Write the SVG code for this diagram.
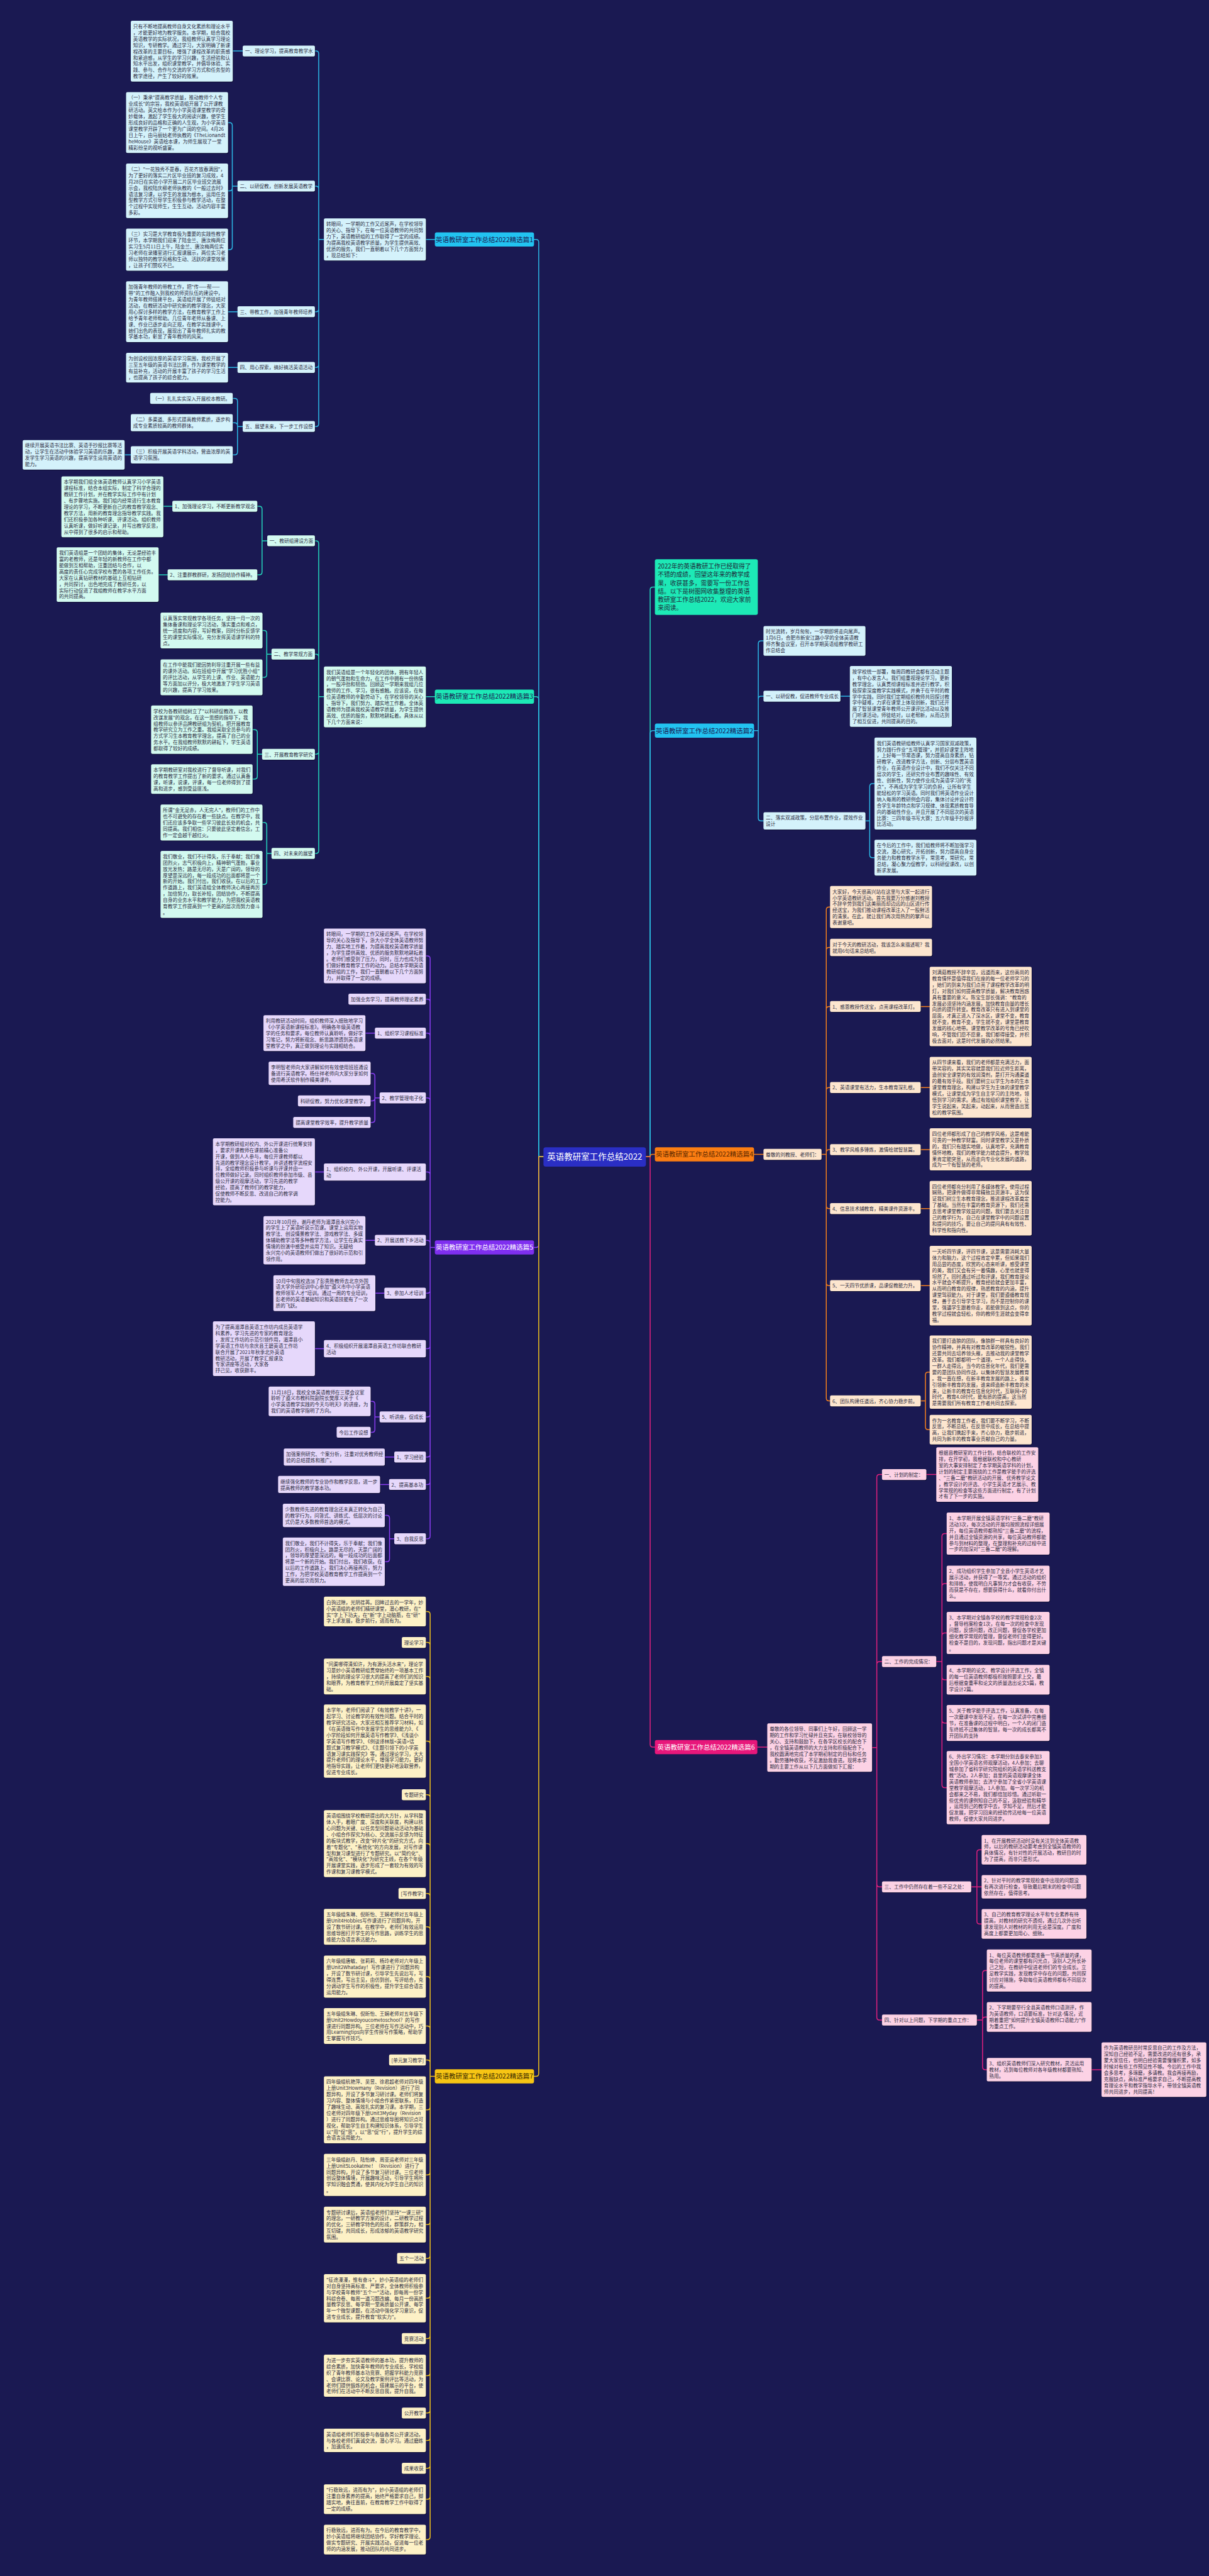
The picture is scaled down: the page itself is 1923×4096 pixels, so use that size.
<svg xmlns="http://www.w3.org/2000/svg" width="1923" height="4096" viewBox="0 0 1923 4096">
<style>
.t{font-family:"Noto Sans CJK SC","Noto Sans",sans-serif;font-size:10.3px;fill:#2c2c42}
.bt{font-family:"Noto Sans CJK SC","Noto Sans",sans-serif;font-size:14px;text-anchor:middle}
.bx{filter:drop-shadow(1px 1.5px 1px rgba(0,0,0,.45))}
.k1{fill:#d4f2fb}.k3{fill:#d3faf0}.k4{fill:#fde6cf}.k5{fill:#e6d8fb}.k6{fill:#fcd2e5}.k7{fill:#fdf1c6}
.ln{fill:none;stroke-width:2;stroke-linecap:round}
.c1{stroke:#2cb9e6}.c3{stroke:#25d6bd}.c4{stroke:#f47f1d}.c5{stroke:#8a3df2}.c6{stroke:#e0207e}.c7{stroke:#f0c21c}
</style>
<rect width="1923" height="4096" fill="#1a1952"/>
<g transform="scale(0.751)">
<g id="connectors">
<path class="ln c3" d="M1151 2449H1141V1481Q1141 1475 1135 1475H1131M921 1475H902M686 1475H675V1151Q675 1145 669 1145H667M686 1475H675V1391Q675 1385 669 1385H667M686 1475H675V1591Q675 1597 669 1597H667M686 1475H675V1801Q675 1807 669 1807H667M566 1145H555V1078Q555 1072 549 1072H545M566 1145H555V1211Q555 1217 549 1217H545M365 1072H346M355 1217H336M575 1385H565V1341Q565 1335 559 1335H556M575 1385H565V1428Q565 1434 559 1434H556M555 1597H545V1551Q545 1545 539 1545H535M555 1597H545V1643.5Q545 1649.5 539 1649.5H535M575 1807H565V1747.5Q565 1741.5 559 1741.5H556M575 1807H565V1866.5Q565 1872.5 559 1872.5H556"/>
<path class="ln c1" d="M1151 2449H1141V513Q1141 507 1135 507H1131M921 507H902M686 507H675V114Q675 108 669 108H667M686 507H675V400Q675 394 669 394H667M686 507H675V654Q675 660 669 660H667M686 507H675V772Q675 778 669 778H667M686 507H675V897Q675 903 669 903H667M514 108H493M503 394H492V265.5Q492 259.5 486 259.5H483M503 394H492V398Q492 404 486 404H483M503 394H492V522.6Q492 528.6 486 528.6H483M503 660H483M503 778H483M514 903H503V849.5Q503 843.5 497 843.5H493M514 903H503V901Q503 895 497 895H493M514 903H503V957Q503 963 497 963H493M277 963H264"/>
<path class="ln c5" d="M1151 2449H1141V2635Q1141 2641 1135 2641H1131M921 2641H911V2030Q911 2024 905 2024H902M921 2641H911V2121.5Q911 2115.5 905 2115.5H902M921 2641H911V2193.5Q911 2187.5 905 2187.5H902M921 2641H911V2330.5Q911 2324.5 905 2324.5H902M921 2641H911V2487.5Q911 2481.5 905 2481.5H902M921 2641H911V2632Q911 2626 905 2626H902M921 2641H911V2732Q911 2738 905 2738H902M921 2641H911V2849.5Q911 2855.5 905 2855.5H902M921 2641H911V2994Q911 3000 905 3000H902M921 2641H911V3079Q911 3085 905 3085H902M921 2641H911V3137Q911 3143 905 3143H902M921 2641H911V3252Q911 3258 905 3258H902M794 2187.5H774M804 2324.5H794V2278.5Q794 2272.5 788 2272.5H785M804 2324.5H794V2325Q794 2331 788 2331H785M804 2324.5H794V2370.5Q794 2376.5 788 2376.5H785M686 2481.5H667M794 2626H774M814 2738H795M686 2855.5H667M804 3000H794V2973Q794 2967 788 2967H785M804 3000H794V3026.5Q794 3032.5 788 3032.5H785M835 3085H815M824 3143H805M835 3258H825V3214.5Q825 3208.5 819 3208.5H815M835 3258H825V3300.5Q825 3306.5 819 3306.5H815"/>
<path class="ln c7" d="M1151 2449H1141V4390Q1141 4396 1135 4396H1131M921 4396H911V3418Q911 3412 905 3412H902M921 4396H911V3483.5Q911 3477.5 905 3477.5H902M921 4396H911V3555.5Q911 3549.5 905 3549.5H902M921 4396H911V3692.5Q911 3686.5 905 3686.5H902M921 4396H911V3806Q911 3800 905 3800H902M921 4396H911V3909.5Q911 3903.5 905 3903.5H902M921 4396H911V4015Q911 4009 905 4009H902M921 4396H911V4085.5Q911 4079.5 905 4079.5H902M921 4396H911V4191Q911 4185 905 4185H902M921 4396H911V4295.5Q911 4289.5 905 4289.5H902M921 4396H911V4367.5Q911 4361.5 905 4361.5H902M921 4396H911V4461Q911 4467 905 4467H902M921 4396H911V4599Q911 4605 905 4605H902M921 4396H911V4704Q911 4710 905 4710H902M921 4396H911V4775.5Q911 4781.5 905 4781.5H902M921 4396H911V4860Q911 4866 905 4866H902M921 4396H911V4945.5Q911 4951.5 905 4951.5H902M921 4396H911V5024Q911 5030 905 5030H902M921 4396H911V5103Q911 5109 905 5109H902M921 4396H911V5161Q911 5167 905 5167H902M921 4396H911V5220Q911 5226 905 5226H902M921 4396H911V5285.5Q911 5291.5 905 5291.5H902M921 4396H911V5371Q911 5377 905 5377H902"/>
<path class="ln c3" d="M1368 2449H1377V1249Q1377 1243 1383 1243H1387"/>
<path class="ln c1" d="M1368 2449H1377V1553Q1377 1547 1383 1547H1387M1597 1547H1606V1363Q1606 1357 1612 1357H1617M1597 1547H1606V1480Q1606 1474 1612 1474H1617M1597 1547H1606V1732Q1606 1738 1612 1738H1617M1780 1474H1800M1833 1738H1842V1665Q1842 1659 1848 1659H1852M1833 1738H1842V1810Q1842 1816 1848 1816H1852"/>
<path class="ln c6" d="M1368 2449H1377V3693Q1377 3699 1383 3699H1387M1604 3699H1625M1847 3700H1857V3128Q1857 3122 1863 3122H1868M1847 3700H1857V3524Q1857 3518 1863 3518H1868M1847 3700H1857V3989Q1857 3995 1863 3995H1868M1847 3700H1857V4271Q1857 4277 1863 4277H1868M1962 3122H1983M1983 3518H1995V3253Q1995 3247 2001 3247H2005M1983 3518H1995V3359Q1995 3353 2001 3353H2005M1983 3518H1995V3463.5Q1995 3457.5 2001 3457.5H2005M1983 3518H1995V3550.5Q1995 3556.5 2001 3556.5H2005M1983 3518H1995V3642Q1995 3648 2001 3648H2005M1983 3518H1995V3779Q1995 3785 2001 3785H2005M2057 3995H2069V3922.5Q2069 3916.5 2075 3916.5H2079M2057 3995H2079M2057 3995H2069V4067.5Q2069 4073.5 2075 4073.5H2079M2069 4277H2081V4178Q2081 4172 2087 4172H2090M2069 4277H2081V4276.5Q2081 4270.5 2087 4270.5H2090M2069 4277H2081V4376Q2081 4382 2087 4382H2090M2306 4382H2333"/>
<path class="ln c4" d="M1368 2449H1377Q1377 2444 1382 2444H1387M1597 2444H1617M1740 2444H1750V1926.5Q1750 1920.5 1756 1920.5H1758M1740 2444H1750V2012Q1750 2006 1756 2006H1758M1740 2444H1750V2137Q1750 2131 1756 2131H1758M1740 2444H1750V2308.5Q1750 2302.5 1756 2302.5H1758M1740 2444H1750V2440Q1750 2434 1756 2434H1758M1740 2444H1750V2553Q1750 2559 1756 2559H1758M1740 2444H1750V2716Q1750 2722 1756 2722H1758M1740 2444H1750V2960Q1750 2966 1756 2966H1758M1950 2131H1969M1950 2302.5H1969M1950 2434H1969M1950 2559H1969M1950 2722H1969M1950 2966H1960V2911Q1960 2905 1966 2905H1969M1950 2966H1960V3021Q1960 3027 1966 3027H1969"/>
</g>

<g id="root"><rect x="1151" y="2429" width="217" height="41" rx="5" fill="#2a2ec4"/><text x="1259.5" y="2456" style="font-family:'Noto Sans CJK SC',sans-serif;font-size:18px;fill:#fff;text-anchor:middle">英语教研室工作总结2022</text></g>

<g id="b1"><rect x="921" y="492" width="210" height="30" rx="4" fill="#22c3f1"/><text class="bt" x="1026" y="512" fill="#1a1952">英语教研室工作总结2022精选篇1</text></g>
<g id="b1-intro"><rect class="bx k1" x="686" y="462.4" width="216" height="89.2" rx="3"/><text class="t" y="478.2"><tspan x="691">转眼间，一学期的工作又近尾声，在学校领导</tspan><tspan x="691" dy="13.2">的关心、指导下，在每一位英语教师的共同努</tspan><tspan x="691" dy="13.2">力下，英语教研组的工作取得了一定的成绩。</tspan><tspan x="691" dy="13.2">为提高我校英语教学质量，为学生提供高效、</tspan><tspan x="691" dy="13.2">优质的服务，我们一直朝着以下几个方面努力</tspan><tspan x="691" dy="13.2">，现总结如下：</tspan></text></g>
<g id="b1-a1"><rect class="bx k1" x="514" y="96.4" width="153" height="23.2" rx="3"/><text class="t" x="519" y="112.2">一、理论学习，提高教育教学水</text></g>
<g id="b1-a1t"><rect class="bx k1" x="277" y="44.1" width="216" height="128.8" rx="3"/><text class="t" y="59.9"><tspan x="282">只有不断地提高教师自身文化素质和理论水平</tspan><tspan x="282" dy="13.2">，才能更好地为教学服务。本学期，结合我校</tspan><tspan x="282" dy="13.2">英语教学的实际状况，我组教师认真学习理论</tspan><tspan x="282" dy="13.2">知识，专研教学。通过学习，大家明确了新课</tspan><tspan x="282" dy="13.2">程改革的主要目标，增强了课程改革的职责感</tspan><tspan x="282" dy="13.2">和紧迫感，从学生的学习兴趣，生活经验和认</tspan><tspan x="282" dy="13.2">知水平出发，组织课堂教学，并倡导体验、实</tspan><tspan x="282" dy="13.2">践、参与、合作与交流的学习方式和任务型的</tspan><tspan x="282" dy="13.2">教学途径，产生了较好的效果。</tspan></text></g>
<g id="b1-a2"><rect class="bx k1" x="503" y="382.4" width="164" height="23.2" rx="3"/><text class="t" x="508" y="398.2">二、以研促教，创新发展英语教学</text></g>
<g id="b1-a2a"><rect class="bx k1" x="267" y="195.1" width="216" height="128.8" rx="3"/><text class="t" y="210.9"><tspan x="272">（一）秉承"提高教学质量，推动教师个人专</tspan><tspan x="272" dy="13.2">业成长"的宗旨，我校英语组开展了公开课教</tspan><tspan x="272" dy="13.2">研活动。英文绘本作为小学英语课堂教学的奇</tspan><tspan x="272" dy="13.2">妙载体，激起了学生极大的阅读兴趣，使学生</tspan><tspan x="272" dy="13.2">形成良好的品格和正确的人生观，为小学英语</tspan><tspan x="272" dy="13.2">课堂教学开辟了一个更为广阔的空间。4月26</tspan><tspan x="272" dy="13.2">日上午，由马丽姑老师执教的《TheLionandt</tspan><tspan x="272" dy="13.2">heMouse》英语绘本课，为师生展现了一堂</tspan><tspan x="272" dy="13.2">精彩纷呈的视听盛宴。</tspan></text></g>
<g id="b1-a2b"><rect class="bx k1" x="267" y="346.2" width="216" height="115.6" rx="3"/><text class="t" y="362"><tspan x="272">（二）"一花独秀不是春，百花齐放春满园"，</tspan><tspan x="272" dy="13.2">为了更好的落实二片区毕业班的复习成效，4</tspan><tspan x="272" dy="13.2">月28日在实验小学开展二片区毕业班交流展</tspan><tspan x="272" dy="13.2">示会，我校陆庆柳老师执教的《一般过去时》</tspan><tspan x="272" dy="13.2">语法复习课，以学生的发展为根本，运用任务</tspan><tspan x="272" dy="13.2">型教学方式引导学生积极参与教学活动，在整</tspan><tspan x="272" dy="13.2">个过程中实现师生，生生互动，活动内容丰富</tspan><tspan x="272" dy="13.2">多彩。</tspan></text></g>
<g id="b1-a2c"><rect class="bx k1" x="267" y="484" width="216" height="89.2" rx="3"/><text class="t" y="499.8"><tspan x="272">（三）实习是大学教育极为重要的实践性教学</tspan><tspan x="272" dy="13.2">环节，本学期我们迎来了陆金兰、唐汝梅两位</tspan><tspan x="272" dy="13.2">实习生5月11日上午，陆金兰、唐汝梅两位实</tspan><tspan x="272" dy="13.2">习老师在录播室进行汇报课展示，两位实习老</tspan><tspan x="272" dy="13.2">师以独特的教学风格和生动、活跃的课堂效果</tspan><tspan x="272" dy="13.2">，让孩子们赞叹不已。</tspan></text></g>
<g id="b1-a3"><rect class="bx k1" x="503" y="648.4" width="164" height="23.2" rx="3"/><text class="t" x="508" y="664.2">三、带教工作，加强青年教师培养</text></g>
<g id="b1-a3t"><rect class="bx k1" x="267" y="595.6" width="216" height="128.8" rx="3"/><text class="t" y="611.4"><tspan x="272">加强青年教师的带教工作，把"传——帮——</tspan><tspan x="272" dy="13.2">带"的工作融入到我校的师资队伍的建设中，</tspan><tspan x="272" dy="13.2">为青年教师搭建平台，英语组开展了师徒结对</tspan><tspan x="272" dy="13.2">活动，在教研活动中研究新的教学理念，大家</tspan><tspan x="272" dy="13.2">用心探讨多样的教学方法，在教育教学工作上</tspan><tspan x="272" dy="13.2">给予青年老师帮助。几位青年老师从备课、上</tspan><tspan x="272" dy="13.2">课、作业已逐步走向正规，在教学实践课中，</tspan><tspan x="272" dy="13.2">她们出色的表现，展现出了青年教师扎实的教</tspan><tspan x="272" dy="13.2">学基本功，彰显了青年教师的风采。</tspan></text></g>
<g id="b1-a4"><rect class="bx k1" x="503" y="766.4" width="164" height="23.2" rx="3"/><text class="t" x="508" y="782.2">四、用心探索，搞好搞活英语活动</text></g>
<g id="b1-a4t"><rect class="bx k1" x="267" y="747.1" width="216" height="62.8" rx="3"/><text class="t" y="762.9"><tspan x="272">为创设校园浓厚的英语学习氛围，我校开展了</tspan><tspan x="272" dy="13.2">三至五年级的英语书法比赛，作为课堂教学的</tspan><tspan x="272" dy="13.2">有益补充，活动的开展丰富了孩子的学习生活</tspan><tspan x="272" dy="13.2">，也提高了孩子的综合能力。</tspan></text></g>
<g id="b1-a5"><rect class="bx k1" x="514" y="891.4" width="153" height="23.2" rx="3"/><text class="t" x="519" y="907.2">五、展望未来，下一步工作设想</text></g>
<g id="b1-a5a"><rect class="bx k1" x="318" y="831.9" width="175" height="23.2" rx="3"/><text class="t" x="323" y="847.7">（一）扎扎实实深入开展校本教研。</text></g>
<g id="b1-a5b"><rect class="bx k1" x="277" y="876.8" width="216" height="36.4" rx="3"/><text class="t" y="892.6"><tspan x="282">（二）多渠道、多形式提高教师素质，逐步构</tspan><tspan x="282" dy="13.2">成专业素质较高的教师群体。</tspan></text></g>
<g id="b1-a5c"><rect class="bx k1" x="277" y="944.8" width="216" height="36.4" rx="3"/><text class="t" y="960.6"><tspan x="282">（三）积极开展英语学科活动，营造浓厚的英</tspan><tspan x="282" dy="13.2">语学习氛围。</tspan></text></g>
<g id="b1-a5ct"><rect class="bx k1" x="48" y="931.6" width="216" height="62.8" rx="3"/><text class="t" y="947.4"><tspan x="53">继续开展英语书法比赛、英语手抄报比赛等活</tspan><tspan x="53" dy="13.2">动，让学生在活动中体验学习英语的乐趣，激</tspan><tspan x="53" dy="13.2">发学生学习英语的兴趣，提高学生运用英语的</tspan><tspan x="53" dy="13.2">能力。</tspan></text></g>

<g id="b3"><rect x="921" y="1460" width="210" height="30" rx="4" fill="#1de9b6"/><text class="bt" x="1026" y="1480" fill="#1a1952">英语教研室工作总结2022精选篇3</text></g>
<g id="b3-intro"><rect class="bx k3" x="686" y="1411.1" width="216" height="128.8" rx="3"/><text class="t" y="1426.9"><tspan x="691">我们英语组是一个年轻化的团体，拥有年轻人</tspan><tspan x="691" dy="13.2">的朝气蓬勃和生命力，在工作中拥有一份热情</tspan><tspan x="691" dy="13.2">，一股冲劲和韧劲。回顾这一学期来我组几位</tspan><tspan x="691" dy="13.2">教师的工作、学习，很有感触。应该说，在每</tspan><tspan x="691" dy="13.2">位英语教师的辛勤劳动下，在学校领导的关心</tspan><tspan x="691" dy="13.2">、指导下，我们努力、踏实地工作着。全体英</tspan><tspan x="691" dy="13.2">语教师为提高我校英语教学质量，为学生提供</tspan><tspan x="691" dy="13.2">高效、优质的服务，默默地耕耘着。具体从以</tspan><tspan x="691" dy="13.2">下几个方面来说：</tspan></text></g>
<g id="b3-1"><rect class="bx k3" x="566" y="1133.4" width="101" height="23.2" rx="3"/><text class="t" x="571" y="1149.2">一、教研组建设方面</text></g>
<g id="b3-1a"><rect class="bx k3" x="365" y="1060.4" width="180" height="23.2" rx="3"/><text class="t" x="370" y="1076.2">1、加强理论学习，不断更新教学观念</text></g>
<g id="b3-1at"><rect class="bx k3" x="130" y="1008.6" width="216" height="128.8" rx="3"/><text class="t" y="1024.4"><tspan x="135">本学期我们组全体英语教师认真学习小学英语</tspan><tspan x="135" dy="13.2">课程标准，结合本组实际，制定了科学合理的</tspan><tspan x="135" dy="13.2">教研工作计划，并在教学实际工作中有计划</tspan><tspan x="135" dy="13.2">、有步骤地实施。我们组内经常进行生本教育</tspan><tspan x="135" dy="13.2">理论的学习，不断更新自己的教育教学观念、</tspan><tspan x="135" dy="13.2">教学方法，用新的教育理念指导教学实践。我</tspan><tspan x="135" dy="13.2">们还积极参加各种听课、评课活动。组织教师</tspan><tspan x="135" dy="13.2">认真听课，做好听课记录，并写出教学反思，</tspan><tspan x="135" dy="13.2">从中得到了很多的启示和帮助。</tspan></text></g>
<g id="b3-1b"><rect class="bx k3" x="355" y="1205.4" width="190" height="23.2" rx="3"/><text class="t" x="360" y="1221.2">2、注重群教群研，发扬团结协作精神。</text></g>
<g id="b3-1bt"><rect class="bx k3" x="120" y="1158.7" width="216" height="115.6" rx="3"/><text class="t" y="1174.5"><tspan x="125">我们英语组是一个团结的集体，无论是经验丰</tspan><tspan x="125" dy="13.2">富的老教师，还是年轻的新教师在工作中都</tspan><tspan x="125" dy="13.2">能做到互相帮助，注重团结与合作，以</tspan><tspan x="125" dy="13.2">高度的责任心完成学校布置的各项工作任务。</tspan><tspan x="125" dy="13.2">大家在认真钻研教材的基础上互相钻研</tspan><tspan x="125" dy="13.2">，共同探讨，出色地完成了教研任务，以</tspan><tspan x="125" dy="13.2">实际行动促进了我组教师在教学水平方面</tspan><tspan x="125" dy="13.2">的共同提高。</tspan></text></g>
<g id="b3-2"><rect class="bx k3" x="575" y="1373.4" width="92" height="23.2" rx="3"/><text class="t" x="580" y="1389.2">二、教学常规方面</text></g>
<g id="b3-2a"><rect class="bx k3" x="340" y="1297" width="216" height="76" rx="3"/><text class="t" y="1312.8"><tspan x="345">认真落实常规教学各项任务，坚持一月一次的</tspan><tspan x="345" dy="13.2">集体备课和理论学习活动，落实重点和难点，</tspan><tspan x="345" dy="13.2">统一进度和内容，写好教案，同时分析反馈学</tspan><tspan x="345" dy="13.2">生的课堂实际情况，充分发挥英语课学科的特</tspan><tspan x="345" dy="13.2">点。</tspan></text></g>
<g id="b3-2b"><rect class="bx k3" x="340" y="1396" width="216" height="76" rx="3"/><text class="t" y="1411.8"><tspan x="345">在工作中能我们能因势利导注重开展一些有益</tspan><tspan x="345" dy="13.2">的课外活动。如在班组中开展"学习优胜小组"</tspan><tspan x="345" dy="13.2">的评比活动，从学生的上课、作业、英语能力</tspan><tspan x="345" dy="13.2">等方面加以评分，极大地激发了学生学习英语</tspan><tspan x="345" dy="13.2">的兴趣，提高了学习效果。</tspan></text></g>
<g id="b3-3"><rect class="bx k3" x="555" y="1585.4" width="112" height="23.2" rx="3"/><text class="t" x="560" y="1601.2">三、开展教育教学研究</text></g>
<g id="b3-3a"><rect class="bx k3" x="320" y="1493.8" width="215" height="102.4" rx="3"/><text class="t" y="1509.6"><tspan x="325">学校为各教研组树立了"以科研促教改，以教</tspan><tspan x="325" dy="13.2">改谋发展"的观念，在这一思想的指导下，我</tspan><tspan x="325" dy="13.2">组教师以参评品牌教研组为契机，把开展教育</tspan><tspan x="325" dy="13.2">教学研究立为工作之重。我组采取全员参与的</tspan><tspan x="325" dy="13.2">方式学习生本教育教学理念，提高了自己的业</tspan><tspan x="325" dy="13.2">务水平。在我组教师默默的耕耘下，学生英语</tspan><tspan x="325" dy="13.2">都取得了较好的成绩。</tspan></text></g>
<g id="b3-3b"><rect class="bx k3" x="320" y="1618.1" width="215" height="62.8" rx="3"/><text class="t" y="1633.9"><tspan x="325">本学期教研室对我校进行了督导听课，对我们</tspan><tspan x="325" dy="13.2">的教育教学工作提出了新的要求。通过认真备</tspan><tspan x="325" dy="13.2">课，听课，说课，评课，每一位老师得到了提</tspan><tspan x="325" dy="13.2">高和进步，感到受益匪浅。</tspan></text></g>
<g id="b3-4"><rect class="bx k3" x="575" y="1795.4" width="92" height="23.2" rx="3"/><text class="t" x="580" y="1811.2">四、对未来的展望</text></g>
<g id="b3-4a"><rect class="bx k3" x="340" y="1703.5" width="216" height="76" rx="3"/><text class="t" y="1719.3"><tspan x="345">所谓"金无足赤，人无完人"，教师们的工作中</tspan><tspan x="345" dy="13.2">也不可避免的存在着一些缺点。在教学中，我</tspan><tspan x="345" dy="13.2">们还应该多争取一些学习彼此长处的机会，共</tspan><tspan x="345" dy="13.2">同提高。我们相信：只要彼此坚定着信念，工</tspan><tspan x="345" dy="13.2">作一定会越干越红火。</tspan></text></g>
<g id="b3-4b"><rect class="bx k3" x="340" y="1801.5" width="216" height="142" rx="3"/><text class="t" y="1817.3"><tspan x="345">我们敬业，我们不计得失，乐于奉献；我们像</tspan><tspan x="345" dy="13.2">团烈火，志气积极向上，精神朝气蓬勃，事业</tspan><tspan x="345" dy="13.2">放光发热；路是无尽的，天是广阔的，领导的</tspan><tspan x="345" dy="13.2">厚望是深远的，每一段成功的后面都将是一个</tspan><tspan x="345" dy="13.2">新的开始。我们付出，我们收获。在以后的工</tspan><tspan x="345" dy="13.2">作道路上，我们英语组全体教师决心再接再厉</tspan><tspan x="345" dy="13.2">，加倍努力，取长补短，团结协作，不断提高</tspan><tspan x="345" dy="13.2">自身的业务水平和教学能力，为把我校英语教</tspan><tspan x="345" dy="13.2">育教学工作提高到一个更高的层次而努力奋斗</tspan><tspan x="345" dy="13.2">。</tspan></text></g>

<g id="b5"><rect x="921" y="2626" width="210" height="30" rx="4" fill="#7f2ff0"/><text class="bt" x="1026" y="2646" fill="#ffffff">英语教研室工作总结2022精选篇5</text></g>
<g id="b5-1"><rect class="bx k5" x="686" y="1966.2" width="216" height="115.6" rx="3"/><text class="t" y="1982"><tspan x="691">转眼间，一学期的工作又接近尾声。在学校领</tspan><tspan x="691" dy="13.2">导的关心及指导下，浙大小学全体英语教师努</tspan><tspan x="691" dy="13.2">力、踏实地工作着，为提高我校英语教学质量</tspan><tspan x="691" dy="13.2">，为学生提供高效、优质的服务默默地耕耘着</tspan><tspan x="691" dy="13.2">。老师们感受到了压力，同时，压力也成为我</tspan><tspan x="691" dy="13.2">们做好教育教学工作的动力。总结本学期英语</tspan><tspan x="691" dy="13.2">教研组的工作，我们一直朝着以下几个方面努</tspan><tspan x="691" dy="13.2">力，并取得了一定的成绩。</tspan></text></g>
<g id="b5-2"><rect class="bx k5" x="738" y="2103.9" width="164" height="23.2" rx="3"/><text class="t" x="743" y="2119.7">加强业务学习，提高教师理论素养</text></g>
<g id="b5-3"><rect class="bx k5" x="794" y="2175.9" width="108" height="23.2" rx="3"/><text class="t" x="799" y="2191.7">1、组织学习课程标准</text></g>
<g id="b5-3t"><rect class="bx k5" x="558" y="2149.5" width="216" height="76" rx="3"/><text class="t" y="2165.3"><tspan x="563">利用教研活动时间，组织教师深入细致地学习</tspan><tspan x="563" dy="13.2">《小学英语新课程标准》。明确各年级英语教</tspan><tspan x="563" dy="13.2">学的任务和要求，每位教师认真聆听，做好学</tspan><tspan x="563" dy="13.2">习笔记，努力将新观念、新思路渗透到英语课</tspan><tspan x="563" dy="13.2">堂教学之中，真正做到理论与实践相结合。</tspan></text></g>
<g id="b5-4"><rect class="bx k5" x="804" y="2312.9" width="98" height="23.2" rx="3"/><text class="t" x="809" y="2328.7">2、教学管理电子化</text></g>
<g id="b5-4a"><rect class="bx k5" x="569" y="2247.7" width="216" height="49.6" rx="3"/><text class="t" y="2263.5"><tspan x="574">李明智老师向大家讲解如何有效使用班班通设</tspan><tspan x="574" dy="13.2">备进行英语教学。杨仕祥老师向大家分享如何</tspan><tspan x="574" dy="13.2">使用希沃软件制作精美课件。</tspan></text></g>
<g id="b5-4b"><rect class="bx k5" x="631" y="2319.4" width="154" height="23.2" rx="3"/><text class="t" x="636" y="2335.2">科研促教，努力优化课堂教学，</text></g>
<g id="b5-4c"><rect class="bx k5" x="621" y="2364.9" width="164" height="23.2" rx="3"/><text class="t" x="626" y="2380.7">提高课堂教学效率，提升教学质量</text></g>
<g id="b5-5"><rect class="bx k5" x="686" y="2463.3" width="216" height="36.4" rx="3"/><text class="t" y="2479.1"><tspan x="691">1、组织校内、外公开课，开展听课、评课活</tspan><tspan x="691" dy="13.2">动</tspan></text></g>
<g id="b5-5t"><rect class="bx k5" x="451" y="2410" width="216" height="142" rx="3"/><text class="t" y="2425.8"><tspan x="456">本学期教研组对校内、外公开课进行统筹安排</tspan><tspan x="456" dy="13.2">，要求开课教师在课前精心准备公</tspan><tspan x="456" dy="13.2">开课，做到人人参与，每位开课教师都以</tspan><tspan x="456" dy="13.2">先进的教学理念设计教学，并讲述教学流程安</tspan><tspan x="456" dy="13.2">排，全组教师积极参与听课与评课并由一</tspan><tspan x="456" dy="13.2">位教师做好记录。同时组织教师参加市级、县</tspan><tspan x="456" dy="13.2">级公开课的观摩活动，学习先进的教学</tspan><tspan x="456" dy="13.2">经验，提高了教师们的教学能力，</tspan><tspan x="456" dy="13.2">促使教师不断反思、改进自己的教学调</tspan><tspan x="456" dy="13.2">控能力。</tspan></text></g>
<g id="b5-6"><rect class="bx k5" x="794" y="2614.4" width="108" height="23.2" rx="3"/><text class="t" x="799" y="2630.2">2、开展送教下乡活动</text></g>
<g id="b5-6t"><rect class="bx k5" x="558" y="2574.8" width="216" height="102.4" rx="3"/><text class="t" y="2590.6"><tspan x="563">2021年10月份，谢丹老师为湄潭县永兴完小</tspan><tspan x="563" dy="13.2">的学生上了英语听说示范课。课堂上运用实物</tspan><tspan x="563" dy="13.2">教学法、创设情景教学法、游戏教学法、多媒</tspan><tspan x="563" dy="13.2">体辅助教学法等多种教学方法，让学生在真实</tspan><tspan x="563" dy="13.2">情境的扮演中感受并运用了知识。无疑给</tspan><tspan x="563" dy="13.2">永兴完小的英语教师们做出了很好的示范和引</tspan><tspan x="563" dy="13.2">领作用。</tspan></text></g>
<g id="b5-7"><rect class="bx k5" x="814" y="2726.4" width="88" height="23.2" rx="3"/><text class="t" x="819" y="2742.2">3、参加人才培训</text></g>
<g id="b5-7t"><rect class="bx k5" x="579" y="2700" width="216" height="76" rx="3"/><text class="t" y="2715.8"><tspan x="584">10月中旬我校选派了彭贵胜教师去北京外国</tspan><tspan x="584" dy="13.2">语大学外研培训中心参加"遵义市中小学英语</tspan><tspan x="584" dy="13.2">教师领军人才"培训。通过一周的专业培训，</tspan><tspan x="584" dy="13.2">彭老师的英语基础知识和英语技能有了一次</tspan><tspan x="584" dy="13.2">质的飞跃。</tspan></text></g>
<g id="b5-8"><rect class="bx k5" x="686" y="2837.3" width="216" height="36.4" rx="3"/><text class="t" y="2853.1"><tspan x="691">4、积极组织开展湄潭县英语工作坊联合教研</tspan><tspan x="691" dy="13.2">活动</tspan></text></g>
<g id="b5-8t"><rect class="bx k5" x="451" y="2797.7" width="216" height="115.6" rx="3"/><text class="t" y="2813.5"><tspan x="456">为了提高湄潭县英语工作坊内成员英语学</tspan><tspan x="456" dy="13.2">科素养，学习先进的专家的教育理念</tspan><tspan x="456" dy="13.2">，发挥工作坊的示范引领作用，湄潭县小</tspan><tspan x="456" dy="13.2">学英语工作坊与余庆县王碧英语工作坊</tspan><tspan x="456" dy="13.2">联合开展了2021年秋季北外英语</tspan><tspan x="456" dy="13.2">教研活动，开展了教学汇报课及</tspan><tspan x="456" dy="13.2">专家讲座等活动，大家各</tspan><tspan x="456" dy="13.2">抒己见，收获颇丰。</tspan></text></g>
<g id="b5-9"><rect class="bx k5" x="804" y="2988.4" width="98" height="23.2" rx="3"/><text class="t" x="809" y="3004.2">5、听讲座，促成长</text></g>
<g id="b5-9a"><rect class="bx k5" x="569" y="2935.6" width="216" height="62.8" rx="3"/><text class="t" y="2951.4"><tspan x="574">11月18日，我校全体英语教师在三楼会议室</tspan><tspan x="574" dy="13.2">聆听了遵义市教科院副院长樊厚义关于《</tspan><tspan x="574" dy="13.2">小学英语教学实践的今天与明天》的讲座，为</tspan><tspan x="574" dy="13.2">我们的英语教学指明了方向。</tspan></text></g>
<g id="b5-9b"><rect class="bx k5" x="713" y="3020.9" width="72" height="23.2" rx="3"/><text class="t" x="718" y="3036.7">今后工作设想</text></g>
<g id="b5-10"><rect class="bx k5" x="835" y="3073.4" width="67" height="23.2" rx="3"/><text class="t" x="840" y="3089.2">1、学习经验</text></g>
<g id="b5-10t"><rect class="bx k5" x="601" y="3066.8" width="214" height="36.4" rx="3"/><text class="t" y="3082.6"><tspan x="606">加强案例研究、个案分析，注重对优秀教师经</tspan><tspan x="606" dy="13.2">验的总结提炼和推广。</tspan></text></g>
<g id="b5-11"><rect class="bx k5" x="824" y="3131.4" width="78" height="23.2" rx="3"/><text class="t" x="829" y="3147.2">2、提高基本功</text></g>
<g id="b5-11t"><rect class="bx k5" x="589" y="3124.8" width="216" height="36.4" rx="3"/><text class="t" y="3140.6"><tspan x="594">继续强化教师的专业协作和教学反思，进一步</tspan><tspan x="594" dy="13.2">提高教师的教学基本功。</tspan></text></g>
<g id="b5-12"><rect class="bx k5" x="835" y="3246.4" width="67" height="23.2" rx="3"/><text class="t" x="840" y="3262.2">3、自我反思</text></g>
<g id="b5-12a"><rect class="bx k5" x="599" y="3183.7" width="216" height="49.6" rx="3"/><text class="t" y="3199.5"><tspan x="604">少数教师先进的教育理念还未真正转化为自己</tspan><tspan x="604" dy="13.2">的教学行为，问答式、讲练式、低层次的讨论</tspan><tspan x="604" dy="13.2">式仍是大多数教师首选的模式。</tspan></text></g>
<g id="b5-12b"><rect class="bx k5" x="599" y="3255.3" width="216" height="102.4" rx="3"/><text class="t" y="3271.1"><tspan x="604">我们敬业，我们不计得失，乐于奉献；我们像</tspan><tspan x="604" dy="13.2">团烈火，积极向上。路是无尽的，天是广阔的</tspan><tspan x="604" dy="13.2">，领导的厚望是深远的，每一段成功的后面都</tspan><tspan x="604" dy="13.2">将是一个新的开始。我们付出，我们收获。在</tspan><tspan x="604" dy="13.2">以后的工作道路上，我们决心再接再厉，努力</tspan><tspan x="604" dy="13.2">工作，为把学校英语教育教学工作提高到一个</tspan><tspan x="604" dy="13.2">更高的层次而努力。</tspan></text></g>

<g id="b7"><rect x="921" y="4381" width="210" height="30" rx="4" fill="#f7c514"/><text class="bt" x="1026" y="4401" fill="#3a2a00">英语教研室工作总结2022精选篇7</text></g>
<g id="b7-1"><rect class="bx k7" x="686" y="3380.6" width="216" height="62.8" rx="3"/><text class="t" y="3396.4"><tspan x="691">白驹过隙，光阴荏苒。回眸过去的一学年，妙</tspan><tspan x="691" dy="13.2">小英语组的老师们精研课堂，潜心教研，在"</tspan><tspan x="691" dy="13.2">实"字上下功夫，在"新"字上动脑筋，在"研"</tspan><tspan x="691" dy="13.2">字上求发展，稳步前行，进而有为。</tspan></text></g>
<g id="b7-2"><rect class="bx k7" x="851" y="3465.9" width="51" height="23.2" rx="3"/><text class="t" x="856" y="3481.7">理论学习</text></g>
<g id="b7-3"><rect class="bx k7" x="686" y="3511.5" width="216" height="76" rx="3"/><text class="t" y="3527.3"><tspan x="691">"问渠哪得清如许，为有源头活水来"，理论学</tspan><tspan x="691" dy="13.2">习是妙小英语教研组贯穿始终的一项基本工作</tspan><tspan x="691" dy="13.2">，持续的理论学习很大的提高了老师们的知识</tspan><tspan x="691" dy="13.2">和眼界，为教育教学工作的开展奠定了坚实基</tspan><tspan x="691" dy="13.2">础。</tspan></text></g>
<g id="b7-4"><rect class="bx k7" x="686" y="3608.9" width="216" height="155.2" rx="3"/><text class="t" y="3624.7"><tspan x="691">本学年，老师们阅读了《有效教学十讲》，一</tspan><tspan x="691" dy="13.2">起学习、讨论教学的有效性问题。结合平时的</tspan><tspan x="691" dy="13.2">教学研究活动，大家还相互推荐学习材料，如</tspan><tspan x="691" dy="13.2">《在英语微写作中发展学生的思维能力》、《</tspan><tspan x="691" dy="13.2">小学阶段如何开展英语写作教学》、《浅谈小</tspan><tspan x="691" dy="13.2">学英语写作教学》、《例谈译林版&lt;英语&gt;话</tspan><tspan x="691" dy="13.2">题式复习教学模式》、《主题引领下的小学英</tspan><tspan x="691" dy="13.2">语复习课实践探究》等。通过理论学习，大大</tspan><tspan x="691" dy="13.2">提升老师们的理论水平，增强学习能力，更好</tspan><tspan x="691" dy="13.2">地指导实践，让老师们更快更好地汲取营养，</tspan><tspan x="691" dy="13.2">促进专业成长。</tspan></text></g>
<g id="b7-5"><rect class="bx k7" x="851" y="3788.4" width="51" height="23.2" rx="3"/><text class="t" x="856" y="3804.2">专题研究</text></g>
<g id="b7-6"><rect class="bx k7" x="686" y="3832.5" width="216" height="142" rx="3"/><text class="t" y="3848.3"><tspan x="691">英语组围绕学校教研提出的大方针，从学科整</tspan><tspan x="691" dy="13.2">体入手，着眼广度、深度和关联度，构建以核</tspan><tspan x="691" dy="13.2">心问题为关键、以任务型问题驱动活动为基础</tspan><tspan x="691" dy="13.2">、小组合作探究为核心、交流展示反馈为特征</tspan><tspan x="691" dy="13.2">的板块式教学，改变"碎片化"的研究方式，向</tspan><tspan x="691" dy="13.2">着"专题化"、"系统化"的方向发展，对写作课</tspan><tspan x="691" dy="13.2">型和复习课型进行了专题研究。以"简约化"、</tspan><tspan x="691" dy="13.2">"高效化"、"模块化"为研究主线，在各个年级</tspan><tspan x="691" dy="13.2">开展课堂实践，逐步形成了一套较为有效的写</tspan><tspan x="691" dy="13.2">作课和复习课教学模式。</tspan></text></g>
<g id="b7-7"><rect class="bx k7" x="844" y="3997.4" width="58" height="23.2" rx="3"/><text class="t" x="849" y="4013.2">[写作教学]</text></g>
<g id="b7-8"><rect class="bx k7" x="686" y="4041.5" width="216" height="76" rx="3"/><text class="t" y="4057.3"><tspan x="691">五年级组朱琳、倪昕怡、王娴老师对五年级上</tspan><tspan x="691" dy="13.2">册Unit4Hobbies写作课进行了同题异构，开</tspan><tspan x="691" dy="13.2">设了数节研讨课。在教学中，老师们有效运用</tspan><tspan x="691" dy="13.2">思维导图打开学生的写作思路，训练学生的思</tspan><tspan x="691" dy="13.2">维能力及语言表达能力。</tspan></text></g>
<g id="b7-9"><rect class="bx k7" x="686" y="4140.4" width="216" height="89.2" rx="3"/><text class="t" y="4156.2"><tspan x="691">六年级组唐敏、张莉莉、杨玲老师对六年级上</tspan><tspan x="691" dy="13.2">册Unit2Whataday！写作课进行了同题异构</tspan><tspan x="691" dy="13.2">，开设了数节研讨课，引导学生先说后写，写</tspan><tspan x="691" dy="13.2">得连贯，写出主见，由仿到创，写评结合，充</tspan><tspan x="691" dy="13.2">分调动学生写作的积极性，提升学生综合语言</tspan><tspan x="691" dy="13.2">运用能力。</tspan></text></g>
<g id="b7-10"><rect class="bx k7" x="686" y="4251.5" width="216" height="76" rx="3"/><text class="t" y="4267.3"><tspan x="691">五年级组朱琳、倪昕怡、王娴老师对五年级下</tspan><tspan x="691" dy="13.2">册Unit2Howdoyoucometoschool？的写作</tspan><tspan x="691" dy="13.2">课进行同题异构。三位老师在写作活动中，巧</tspan><tspan x="691" dy="13.2">用Learningtips向学生传授写作策略，帮助学</tspan><tspan x="691" dy="13.2">生掌握写作技巧。</tspan></text></g>
<g id="b7-11"><rect class="bx k7" x="824" y="4349.9" width="78" height="23.2" rx="3"/><text class="t" x="829" y="4365.7">[单元复习教学]</text></g>
<g id="b7-12"><rect class="bx k7" x="686" y="4396" width="216" height="142" rx="3"/><text class="t" y="4411.8"><tspan x="691">四年级组杭艳萍、吴昱、徐君超老师对四年级</tspan><tspan x="691" dy="13.2">上册Unit3Howmany（Revision）进行了同</tspan><tspan x="691" dy="13.2">题异构，开设了多节复习研讨课。老师们将复</tspan><tspan x="691" dy="13.2">习内容、整体情境与小组合作紧密联系，打造</tspan><tspan x="691" dy="13.2">了趣味生动、高效扎实的复习课。本学期，三</tspan><tspan x="691" dy="13.2">位老师对四年级下册Unit3Myday（Revision</tspan><tspan x="691" dy="13.2">）进行了同题异构。通过思维导图将知识点可</tspan><tspan x="691" dy="13.2">视化，帮助学生自主构建知识体系，引导学生</tspan><tspan x="691" dy="13.2">以"用"促"思"，以"思"促"行"，提升学生的综</tspan><tspan x="691" dy="13.2">合语言运用能力。</tspan></text></g>
<g id="b7-13"><rect class="bx k7" x="686" y="4560.4" width="216" height="89.2" rx="3"/><text class="t" y="4576.2"><tspan x="691">三年级组赵丹、陆怡婷、周亚运老师对三年级</tspan><tspan x="691" dy="13.2">上册Unit5Lookatme！（Revision）进行了</tspan><tspan x="691" dy="13.2">同题异构，开设了多节复习研讨课。三位老师</tspan><tspan x="691" dy="13.2">创设整体情境，开展趣味活动，引导学生将所</tspan><tspan x="691" dy="13.2">学知识融会贯通，使其内化为学生自己的知识</tspan><tspan x="691" dy="13.2">。</tspan></text></g>
<g id="b7-14"><rect class="bx k7" x="686" y="4672" width="216" height="76" rx="3"/><text class="t" y="4687.8"><tspan x="691">专题研讨课后，英语组老师们坚持"一课三研"</tspan><tspan x="691" dy="13.2">的理念，一研教学方案的设计，二研教学过程</tspan><tspan x="691" dy="13.2">的优化，三研教学特色的形成，群策群力，相</tspan><tspan x="691" dy="13.2">互切磋，共同成长，形成浓郁的英语教学研究</tspan><tspan x="691" dy="13.2">氛围。</tspan></text></g>
<g id="b7-15"><rect class="bx k7" x="841" y="4769.9" width="61" height="23.2" rx="3"/><text class="t" x="846" y="4785.7">五个一活动</text></g>
<g id="b7-16"><rect class="bx k7" x="686" y="4814.8" width="216" height="102.4" rx="3"/><text class="t" y="4830.6"><tspan x="691">"征途漫漫，惟有奋斗"，妙小英语组的老师们</tspan><tspan x="691" dy="13.2">对自身坚持高标准、严要求，全体教师积极参</tspan><tspan x="691" dy="13.2">与学校青年教师"五个一"活动，即每周一份学</tspan><tspan x="691" dy="13.2">科综合卷、每周一道习题改编、每月一份高质</tspan><tspan x="691" dy="13.2">量教学反思、每学期一堂高质量公开课、每学</tspan><tspan x="691" dy="13.2">年一个微型课题，在活动中强化学习意识，促</tspan><tspan x="691" dy="13.2">进专业成长，提升教育"软实力"。</tspan></text></g>
<g id="b7-17"><rect class="bx k7" x="851" y="4939.9" width="51" height="23.2" rx="3"/><text class="t" x="856" y="4955.7">竞赛活动</text></g>
<g id="b7-18"><rect class="bx k7" x="686" y="4985.4" width="216" height="89.2" rx="3"/><text class="t" y="5001.2"><tspan x="691">为进一步夯实英语教师的基本功，提升教师的</tspan><tspan x="691" dy="13.2">综合素质，加快青年教师的专业成长，学校组</tspan><tspan x="691" dy="13.2">织了青年教师基本功竞赛、把握学科能力竞赛</tspan><tspan x="691" dy="13.2">、会课比赛、论文及教学案例评比等活动，为</tspan><tspan x="691" dy="13.2">老师们提供锻炼的机会，搭建展示的平台，使</tspan><tspan x="691" dy="13.2">老师们在活动中不断反思自我，提升自我。</tspan></text></g>
<g id="b7-19"><rect class="bx k7" x="851" y="5097.4" width="51" height="23.2" rx="3"/><text class="t" x="856" y="5113.2">公开教学</text></g>
<g id="b7-20"><rect class="bx k7" x="686" y="5142.2" width="216" height="49.6" rx="3"/><text class="t" y="5158"><tspan x="691">英语组老师们积极参与各级各类公开课活动，</tspan><tspan x="691" dy="13.2">与各校老师们真诚交流，潜心学习。通过磨练</tspan><tspan x="691" dy="13.2">，加速成长。</tspan></text></g>
<g id="b7-21"><rect class="bx k7" x="851" y="5214.4" width="51" height="23.2" rx="3"/><text class="t" x="856" y="5230.2">成果收获</text></g>
<g id="b7-22"><rect class="bx k7" x="686" y="5260.1" width="216" height="62.8" rx="3"/><text class="t" y="5275.9"><tspan x="691">"行稳致远，进而有为"，妙小英语组的老师们</tspan><tspan x="691" dy="13.2">注重自身素养的提高，始终严格要求自己，脚</tspan><tspan x="691" dy="13.2">踏实地，勇往直前，在教育教学工作中取得了</tspan><tspan x="691" dy="13.2">一定的成绩。</tspan></text></g>
<g id="b7-23"><rect class="bx k7" x="686" y="5345.6" width="216" height="62.8" rx="3"/><text class="t" y="5361.4"><tspan x="691">行稳致远，进而有为。在今后的教育教学中，</tspan><tspan x="691" dy="13.2">妙小英语组将继续团结协作，学好教学理论、</tspan><tspan x="691" dy="13.2">做实专题研究、开展实践活动，促进每一位老</tspan><tspan x="691" dy="13.2">师的内涵发展，推动团队的共同进步。</tspan></text></g>

<g id="intro"><rect x="1387" y="1184" width="218" height="118" rx="4" fill="#1de9b6"/><text y="1203.7" style="font-family:'Noto Sans CJK SC',sans-serif;font-size:13px;fill:#1e2a3a"><tspan x="1393">2022年的英语教研工作已经取得了</tspan><tspan x="1393" dy="17.7">不错的成绩，回望这年来的教学成</tspan><tspan x="1393" dy="17.7">果，收获甚多，需要写一份工作总</tspan><tspan x="1393" dy="17.7">结。以下是树图网收集整理的英语</tspan><tspan x="1393" dy="17.7">教研室工作总结2022，欢迎大家前</tspan><tspan x="1393" dy="17.7">来阅读。</tspan></text></g>

<g id="b2"><rect x="1387" y="1532" width="210" height="30" rx="4" fill="#22c3f1"/><text class="bt" x="1492" y="1552" fill="#1a1952">英语教研室工作总结2022精选篇2</text></g>
<g id="b2-1"><rect class="bx k1" x="1617" y="1325.6" width="216" height="62.8" rx="3"/><text class="t" y="1341.4"><tspan x="1622">时光流转，岁月匆匆，一学期即将走向尾声。</tspan><tspan x="1622" dy="13.2">1月6日，合肥市新安江路小学的全体英语教</tspan><tspan x="1622" dy="13.2">师齐聚会议室，召开本学期英语组教学教研工</tspan><tspan x="1622" dy="13.2">作总结会</tspan></text></g>
<g id="b2-2"><rect class="bx k1" x="1617" y="1462.4" width="163" height="23.2" rx="3"/><text class="t" x="1622" y="1478.2">一、以研促教，促进教师专业成长</text></g>
<g id="b2-2t"><rect class="bx k1" x="1800" y="1410.1" width="216" height="128.8" rx="3"/><text class="t" y="1425.9"><tspan x="1805">按学校统一部署，每周四教研会都有活动主题</tspan><tspan x="1805" dy="13.2">，有中心发言人。我们组重视理论学习，更新</tspan><tspan x="1805" dy="13.2">教学理念，认真贯彻课程标准并进行教学，积</tspan><tspan x="1805" dy="13.2">极探索深度教学实践模式，并勇于在平时的教</tspan><tspan x="1805" dy="13.2">学中实践。同时我们定期组织教师共同探讨教</tspan><tspan x="1805" dy="13.2">学中疑难，力求在课堂上体现创新，我们还开</tspan><tspan x="1805" dy="13.2">展了智慧课堂青年教师公开课评比活动以及推</tspan><tspan x="1805" dy="13.2">门听课活动，师徒结对，以老帮新，从而达到</tspan><tspan x="1805" dy="13.2">了相互促进，共同提高的目的。</tspan></text></g>
<g id="b2-3"><rect class="bx k1" x="1617" y="1719.8" width="216" height="36.4" rx="3"/><text class="t" y="1735.6"><tspan x="1622">二、落实双减政策，分层布置作业，提效作业</tspan><tspan x="1622" dy="13.2">设计</tspan></text></g>
<g id="b2-3a"><rect class="bx k1" x="1852" y="1561.6" width="216" height="194.8" rx="3"/><text class="t" y="1577.4"><tspan x="1857">我们英语教研组教师认真学习国家双减政策，</tspan><tspan x="1857" dy="13.2">努力践行作业"五项管理"，并抓好课堂主阵地</tspan><tspan x="1857" dy="13.2">，上好每一节常态课，努力提高自身素质，钻</tspan><tspan x="1857" dy="13.2">研教学，改进教学方法，创新、分层布置英语</tspan><tspan x="1857" dy="13.2">作业，在英语作业设计中，我们不仅关注不同</tspan><tspan x="1857" dy="13.2">层次的学生，还研究作业布置的趣味性、有效</tspan><tspan x="1857" dy="13.2">性、创新性，努力使作业成为英语学习的"亮</tspan><tspan x="1857" dy="13.2">点"，不再成为学生学习的负担，让所有学生</tspan><tspan x="1857" dy="13.2">能轻松的学习英语。同时我们将英语作业设计</tspan><tspan x="1857" dy="13.2">纳入每周的教研例会内容，集体讨论并设计符</tspan><tspan x="1857" dy="13.2">合学生年龄特点和学习规律、体现素质教育导</tspan><tspan x="1857" dy="13.2">向的基础性作业。并且开展了不同层次的英语</tspan><tspan x="1857" dy="13.2">比赛：三四年级书写大赛；五六年级手抄报评</tspan><tspan x="1857" dy="13.2">比活动。</tspan></text></g>
<g id="b2-3b"><rect class="bx k1" x="1852" y="1778" width="216" height="76" rx="3"/><text class="t" y="1793.8"><tspan x="1857">在今后的工作中，我们组教师将不断加强学习</tspan><tspan x="1857" dy="13.2">交流，潜心研究，开拓创新，努力提高自身业</tspan><tspan x="1857" dy="13.2">务能力和教育教学水平，常思考，常研究，常</tspan><tspan x="1857" dy="13.2">总结，凝心聚力促教学，以科研促课改，以创</tspan><tspan x="1857" dy="13.2">新求发展。</tspan></text></g>

<g id="b4"><rect x="1387" y="2429" width="210" height="30" rx="4" fill="#fb7d12"/><text class="bt" x="1492" y="2449" fill="#5a2800">英语教研室工作总结2022精选篇4</text></g>
<g id="b4-0"><rect class="bx k4" x="1617" y="2432.4" width="123" height="23.2" rx="3"/><text class="t" x="1622" y="2448.2">尊敬的刘教授、老师们：</text></g>
<g id="b4-c1"><rect class="bx k4" x="1758" y="1875.9" width="216" height="89.2" rx="3"/><text class="t" y="1891.7"><tspan x="1763">大家好，今天很高兴站在这里与大家一起进行</tspan><tspan x="1763" dy="13.2">小学英语教研活动。首先我要万分感谢刘教授</tspan><tspan x="1763" dy="13.2">不辞辛劳到我们这美丽而却边远的山区进行传</tspan><tspan x="1763" dy="13.2">经送宝，为我们推动课程改革注入了一股鲜活</tspan><tspan x="1763" dy="13.2">的清泉。在此，就让我们再次用热烈的掌声以</tspan><tspan x="1763" dy="13.2">表谢意吧。</tspan></text></g>
<g id="b4-c2"><rect class="bx k4" x="1758" y="1987.8" width="216" height="36.4" rx="3"/><text class="t" y="2003.6"><tspan x="1763">对于今天的教研活动，我该怎么来描述呢？我</tspan><tspan x="1763" dy="13.2">就用6句话来总结吧。</tspan></text></g>
<g id="b4-c3"><rect class="bx k4" x="1758" y="2119.4" width="192" height="23.2" rx="3"/><text class="t" x="1763" y="2135.2">1、感恩教授传送宝，点亮课程改革灯。</text></g>
<g id="b4-c3t"><rect class="bx k4" x="1969" y="2046.8" width="216" height="168.4" rx="3"/><text class="t" y="2062.6"><tspan x="1974">刘满菇教授不辞辛苦，远道而来，这份高尚的</tspan><tspan x="1974" dy="13.2">教育情怀是值得我们在座的每一位老师学习的</tspan><tspan x="1974" dy="13.2">，她们的到来为我们点亮了课程教学改革的明</tspan><tspan x="1974" dy="13.2">灯，对我们如何提高教学质量，解决教育困惑</tspan><tspan x="1974" dy="13.2">具有重要的意义。陈宝生部长强调："教育的</tspan><tspan x="1974" dy="13.2">发展必须坚持内涵发展，加快教育由量的增长</tspan><tspan x="1974" dy="13.2">向质的提升转变。教育改革只有进入到课堂的</tspan><tspan x="1974" dy="13.2">层面，才真正进入了深水区，课堂不变，教育</tspan><tspan x="1974" dy="13.2">就不变，教育不变，学生就不变，课堂是教育</tspan><tspan x="1974" dy="13.2">发展的核心地带。课堂教学改革的号角已经吹</tspan><tspan x="1974" dy="13.2">响，不管我们愿不愿意，我们都得接受，并积</tspan><tspan x="1974" dy="13.2">极去面对，这是时代发展的必然结果。</tspan></text></g>
<g id="b4-c4"><rect class="bx k4" x="1758" y="2290.9" width="192" height="23.2" rx="3"/><text class="t" x="1763" y="2306.7">2、英语课堂有活力，生本教育深扎根。</text></g>
<g id="b4-c4t"><rect class="bx k4" x="1969" y="2237.6" width="216" height="128.8" rx="3"/><text class="t" y="2253.4"><tspan x="1974">从四节课来看，我们的老师都是充满活力，面</tspan><tspan x="1974" dy="13.2">带笑容的，其实笑容就是我们拉近师生距离，</tspan><tspan x="1974" dy="13.2">造创安全课堂的有效润滑剂，是打开沟通渠道</tspan><tspan x="1974" dy="13.2">的最有效手段。我们要树立以学生为本的生本</tspan><tspan x="1974" dy="13.2">课堂教育理念，构建以学生为主体的课堂教学</tspan><tspan x="1974" dy="13.2">模式，让课堂成为学生自主学习的主阵地，领</tspan><tspan x="1974" dy="13.2">悟到学习的需求。通过有效组织课堂教学，让</tspan><tspan x="1974" dy="13.2">学生说起来，笑起来，动起来，从而营造出宽</tspan><tspan x="1974" dy="13.2">松的教学氛围。</tspan></text></g>
<g id="b4-c5"><rect class="bx k4" x="1758" y="2422.4" width="192" height="23.2" rx="3"/><text class="t" x="1763" y="2438.2">3、教学风格多锤炼，激情绘就智慧篇。</text></g>
<g id="b4-c5t"><rect class="bx k4" x="1969" y="2388.9" width="216" height="89.2" rx="3"/><text class="t" y="2404.7"><tspan x="1974">四位老师都形成了自己的教学风格，这是难能</tspan><tspan x="1974" dy="13.2">可贵的一种教学财富。同时课堂教学又是朴质</tspan><tspan x="1974" dy="13.2">的，我们只有踏实地做，认真地学，充满教育</tspan><tspan x="1974" dy="13.2">情怀地教，我们的教学能力就会提升，教学效</tspan><tspan x="1974" dy="13.2">果肯定能突显，从而走向专业化发展的道路，</tspan><tspan x="1974" dy="13.2">成为一个有智慧的老师。</tspan></text></g>
<g id="b4-c6"><rect class="bx k4" x="1758" y="2547.4" width="192" height="23.2" rx="3"/><text class="t" x="1763" y="2563.2">4、信息技术辅教育，精美课件资源丰。</text></g>
<g id="b4-c6t"><rect class="bx k4" x="1969" y="2500.2" width="216" height="115.6" rx="3"/><text class="t" y="2516"><tspan x="1974">四位老师都充分利用了多媒体教学，使用过程</tspan><tspan x="1974" dy="13.2">娴熟，把课件做得非常精致且资源丰，这为保</tspan><tspan x="1974" dy="13.2">证我们树立生本教育理念，推进课程改革奠定</tspan><tspan x="1974" dy="13.2">了基础。当然在丰富的教育资源下，我们还需</tspan><tspan x="1974" dy="13.2">去思考课堂教学效益的问题，我们要去关注自</tspan><tspan x="1974" dy="13.2">己的教学行为，自己在课堂教学中的问题设置</tspan><tspan x="1974" dy="13.2">和提问的技巧，要让自己的提问具有有效性、</tspan><tspan x="1974" dy="13.2">科学性和指向性。</tspan></text></g>
<g id="b4-c7"><rect class="bx k4" x="1758" y="2710.4" width="192" height="23.2" rx="3"/><text class="t" x="1763" y="2726.2">5、一天四节优质课，品课促教能力升。</text></g>
<g id="b4-c7t"><rect class="bx k4" x="1969" y="2637.8" width="216" height="168.4" rx="3"/><text class="t" y="2653.6"><tspan x="1974">一天听四节课，评四节课，这是需要消耗大量</tspan><tspan x="1974" dy="13.2">体力和脑力，这个过程肯定辛累，但如果我们</tspan><tspan x="1974" dy="13.2">用品尝的态度，欣赏的心态来听课，感受课堂</tspan><tspan x="1974" dy="13.2">的美，我们又会有另一番情趣，心里也就变得</tspan><tspan x="1974" dy="13.2">坦然了。同时通过听过和评课，我们教育理论</tspan><tspan x="1974" dy="13.2">水平就会不断提升，教育经验就会更加丰富，</tspan><tspan x="1974" dy="13.2">从而明白教育的规律，熟悉教育的内涵，提升</tspan><tspan x="1974" dy="13.2">课堂驾驭能力。对于课堂，我们要遵循教育规</tspan><tspan x="1974" dy="13.2">律，善于去引导学生学习，而不是控制你的课</tspan><tspan x="1974" dy="13.2">堂，强逼学生跟着你走，若能做到这点，你的</tspan><tspan x="1974" dy="13.2">教学过程就会轻松，你的教师生涯就会变得幸</tspan><tspan x="1974" dy="13.2">福。</tspan></text></g>
<g id="b4-c8"><rect class="bx k4" x="1758" y="2954.4" width="192" height="23.2" rx="3"/><text class="t" x="1763" y="2970.2">6、团队构建任道远，齐心协力稳步前。</text></g>
<g id="b4-c8a"><rect class="bx k4" x="1969" y="2827.4" width="216" height="155.2" rx="3"/><text class="t" y="2843.2"><tspan x="1974">我们要打造狼的团队，像狼群一样具有良好的</tspan><tspan x="1974" dy="13.2">协作精神，并具有对教育改革的敏锐性。我们</tspan><tspan x="1974" dy="13.2">还要共同去培养领头雁，去推动我的课堂教学</tspan><tspan x="1974" dy="13.2">改革。我们都都明一个道理，一个人走得快，</tspan><tspan x="1974" dy="13.2">一群人走得远，当今的信息化年代，我们更需</tspan><tspan x="1974" dy="13.2">要的是团队协同作战，以集体的智慧发展教育</tspan><tspan x="1974" dy="13.2">。我一直在想，在新丰教育发展的路上，谁来</tspan><tspan x="1974" dy="13.2">引领新丰教育的发展，谁来缔造新丰教育的未</tspan><tspan x="1974" dy="13.2">来，让新丰的教育在信息化时代，互联网+的</tspan><tspan x="1974" dy="13.2">时代，教育4.0时代，能有质的提高，这当然</tspan><tspan x="1974" dy="13.2">是需要我们所有教育工作者共同去探索。</tspan></text></g>
<g id="b4-c8b"><rect class="bx k4" x="1969" y="2995.6" width="216" height="62.8" rx="3"/><text class="t" y="3011.4"><tspan x="1974">作为一名教育工作者，我们要不断学习，不断</tspan><tspan x="1974" dy="13.2">反思，不断总结，在反思中成长，在总结中提</tspan><tspan x="1974" dy="13.2">高，让我们携起手来，齐心协力，稳步前进，</tspan><tspan x="1974" dy="13.2">共同为新丰的教育事业贡献自己的力量。</tspan></text></g>

<g id="b6"><rect x="1387" y="3684" width="217" height="30" rx="4" fill="#e8177b"/><text class="bt" x="1495.5" y="3704" fill="#ffffff">英语教研室工作总结2022精选篇6</text></g>
<g id="b6-0"><rect class="bx k6" x="1625" y="3648.8" width="222" height="102.4" rx="3"/><text class="t" y="3664.6"><tspan x="1630">尊敬的各位领导、同事们上午好，回顾这一学</tspan><tspan x="1630" dy="13.2">期的工作和学习忙碌并且充实，在联校领导的</tspan><tspan x="1630" dy="13.2">关心、支持和鼓励下，在各学区校长的配合下</tspan><tspan x="1630" dy="13.2">，在全镇英语教师的大力支持和积极配合下，</tspan><tspan x="1630" dy="13.2">我校圆满地完成了本学期初制定的目标和任务</tspan><tspan x="1630" dy="13.2">。勤劳播种收获，不足激励我奋进。现将本学</tspan><tspan x="1630" dy="13.2">期的主要工作从以下几方面做如下汇报：</tspan></text></g>
<g id="b6-1"><rect class="bx k6" x="1868" y="3110.4" width="94" height="23.2" rx="3"/><text class="t" x="1873" y="3126.2">一、计划的制定：</text></g>
<g id="b6-1t"><rect class="bx k6" x="1983" y="3064.2" width="216" height="115.6" rx="3"/><text class="t" y="3080"><tspan x="1988">根据县教研室的工作计划，结合联校的工作安</tspan><tspan x="1988" dy="13.2">排，在开学初，我根据联校和中心教研</tspan><tspan x="1988" dy="13.2">室的大事安排制定了本学期英语学科的计划，</tspan><tspan x="1988" dy="13.2">计划的制定主要围绕的工作是教学能手的评选</tspan><tspan x="1988" dy="13.2">、"三备二磨"教研活动的开展、优秀教学论文</tspan><tspan x="1988" dy="13.2">，教学设计的评选、小学生英语才艺展示、教</tspan><tspan x="1988" dy="13.2">学常规的检查等这些方面进行制定，有了计划</tspan><tspan x="1988" dy="13.2">才有了下一步的实施。</tspan></text></g>
<g id="b6-2"><rect class="bx k6" x="1868" y="3506.4" width="115" height="23.2" rx="3"/><text class="t" x="1873" y="3522.2">二、工作的完成情况：</text></g>
<g id="b6-2a"><rect class="bx k6" x="2005" y="3202.4" width="218" height="89.2" rx="3"/><text class="t" y="3218.2"><tspan x="2010">1、本学期开展全镇英语学科"三备二磨"教研</tspan><tspan x="2010" dy="13.2">活动3次，每次活动的开展均按照流程详细展</tspan><tspan x="2010" dy="13.2">开，每位英语教师都熟知"三备二磨"的流程，</tspan><tspan x="2010" dy="13.2">并且通过全镇资源的共享，每位英站教师都能</tspan><tspan x="2010" dy="13.2">参与到材料的整理，在整理和补充的过程中进</tspan><tspan x="2010" dy="13.2">一步的加深对"三备二磨"的理解。</tspan></text></g>
<g id="b6-2b"><rect class="bx k6" x="2005" y="3315" width="218" height="76" rx="3"/><text class="t" y="3330.8"><tspan x="2010">2、成功组织学生参加了全县小学生英语才艺</tspan><tspan x="2010" dy="13.2">展示活动，并获得了一等奖。通过活动的组织</tspan><tspan x="2010" dy="13.2">和排练，使我明白凡事努力才会有收获，不劳</tspan><tspan x="2010" dy="13.2">而获是不存在，想要获得什么，就看你付出什</tspan><tspan x="2010" dy="13.2">么。</tspan></text></g>
<g id="b6-2c"><rect class="bx k6" x="2005" y="3412.9" width="218" height="89.2" rx="3"/><text class="t" y="3428.7"><tspan x="2010">3、本学期对全镇各学校的教学常规检查2次</tspan><tspan x="2010" dy="13.2">，督导档案检查1次，在每一次的检查中发现</tspan><tspan x="2010" dy="13.2">问题，反馈问题，改正问题，督促各学校更加</tspan><tspan x="2010" dy="13.2">细化教学常规的管理，督促老师们变得更好。</tspan><tspan x="2010" dy="13.2">检查不是目的，发现问题，指出问题才是关键</tspan><tspan x="2010" dy="13.2">。</tspan></text></g>
<g id="b6-2d"><rect class="bx k6" x="2005" y="3525.1" width="218" height="62.8" rx="3"/><text class="t" y="3540.9"><tspan x="2010">4、本学期的论文、教学设计评选工作，全镇</tspan><tspan x="2010" dy="13.2">的每一位英语教师都极积按照要求上交，最</tspan><tspan x="2010" dy="13.2">后根据查重率和论文的质量选出论文5篇，教</tspan><tspan x="2010" dy="13.2">学设计2篇。</tspan></text></g>
<g id="b6-2e"><rect class="bx k6" x="2005" y="3610" width="218" height="76" rx="3"/><text class="t" y="3625.8"><tspan x="2010">5、关于教学能手评选工作，认真准备，在每</tspan><tspan x="2010" dy="13.2">一次磨课中发现不足，在每一次试讲中完善细</tspan><tspan x="2010" dy="13.2">节，在准备课的过程中明白，一个人的闭门造</tspan><tspan x="2010" dy="13.2">车终抵不过集体的智慧，每一次的成长都离不</tspan><tspan x="2010" dy="13.2">开团队的支持</tspan></text></g>
<g id="b6-2f"><rect class="bx k6" x="2005" y="3707.4" width="218" height="155.2" rx="3"/><text class="t" y="3723.2"><tspan x="2010">6、外出学习情况：本学期分别去泰安参加3</tspan><tspan x="2010" dy="13.2">全国小学英语名师观摩活动，4人参加；去聊</tspan><tspan x="2010" dy="13.2">城参加了省科学研究院组织的英语学科送教支</tspan><tspan x="2010" dy="13.2">教"活动，2人参加；县里的英语观摩课全体</tspan><tspan x="2010" dy="13.2">英语教师参加；去济宁参加了全省小学英语课</tspan><tspan x="2010" dy="13.2">堂教学观摩活动，1人参加。每一次学习的机</tspan><tspan x="2010" dy="13.2">会都来之不易，我们都倍加珍惜。通过听取一</tspan><tspan x="2010" dy="13.2">些优秀的课例知自己的不足，汲取经验和精华</tspan><tspan x="2010" dy="13.2">，运用到己的教学中去，学知不足，然后才能</tspan><tspan x="2010" dy="13.2">促发展，把学习回来的经验传达给每一位英语</tspan><tspan x="2010" dy="13.2">教师，促使大家共同进步。</tspan></text></g>
<g id="b6-3"><rect class="bx k6" x="1868" y="3983.4" width="189" height="23.2" rx="3"/><text class="t" x="1873" y="3999.2">三、工作中仍然存在着一些不足之处：</text></g>
<g id="b6-3a"><rect class="bx k6" x="2079" y="3885.1" width="222" height="62.8" rx="3"/><text class="t" y="3900.9"><tspan x="2084">1、在开展教研活动时没有关注到全体英语教</tspan><tspan x="2084" dy="13.2">师，以后的教研活动要考虑到全镇英语教师的</tspan><tspan x="2084" dy="13.2">具体情况，有针对性的开展活动，教研目的时</tspan><tspan x="2084" dy="13.2">为了提高，而非只是形式。</tspan></text></g>
<g id="b6-3b"><rect class="bx k6" x="2079" y="3970.2" width="222" height="49.6" rx="3"/><text class="t" y="3986"><tspan x="2084">2、针对平时的教学常规检查中出现的问题没</tspan><tspan x="2084" dy="13.2">有再次进行检查，导致最后期末的检查中问题</tspan><tspan x="2084" dy="13.2">依然存在，值得思考。</tspan></text></g>
<g id="b6-3c"><rect class="bx k6" x="2079" y="4042.1" width="222" height="62.8" rx="3"/><text class="t" y="4057.9"><tspan x="2084">3、自己的教育教学理论水平和专业素养有待</tspan><tspan x="2084" dy="13.2">提高，对教材的研究不透彻，通过几次外出听</tspan><tspan x="2084" dy="13.2">课发现别人对教材的利用无论是深度。广度和</tspan><tspan x="2084" dy="13.2">高度上都要更加用心、细致。</tspan></text></g>
<g id="b6-4"><rect class="bx k6" x="1868" y="4265.4" width="201" height="23.2" rx="3"/><text class="t" x="1873" y="4281.2">四、针对以上问题，下学期的重点工作：</text></g>
<g id="b6-4a"><rect class="bx k6" x="2090" y="4127.4" width="222" height="89.2" rx="3"/><text class="t" y="4143.2"><tspan x="2095">1、每位英语教师都要准备一节高质量的课，</tspan><tspan x="2095" dy="13.2">每位老师的课堂都有闪光点，汲别人之所长补</tspan><tspan x="2095" dy="13.2">己之短，在教研中促进老师们的专业成长。立</tspan><tspan x="2095" dy="13.2">足教学实践，发现教学中存在的问题，共同探</tspan><tspan x="2095" dy="13.2">讨应对措施，争取每位英语教师都有不同层次</tspan><tspan x="2095" dy="13.2">的提高。</tspan></text></g>
<g id="b6-4b"><rect class="bx k6" x="2090" y="4239.1" width="222" height="62.8" rx="3"/><text class="t" y="4254.9"><tspan x="2095">2、下学期要举行全县英语教师口语测评，作</tspan><tspan x="2095" dy="13.2">为英语教师，口语要标准，针对这-情况，近</tspan><tspan x="2095" dy="13.2">期着重把"如何提升全镇英语教师口语能力"作</tspan><tspan x="2095" dy="13.2">为重点工作。</tspan></text></g>
<g id="b6-4c"><rect class="bx k6" x="2090" y="4357.2" width="222" height="49.6" rx="3"/><text class="t" y="4373"><tspan x="2095">3、组织英语教师们深入研究教材，灵活运用</tspan><tspan x="2095" dy="13.2">教材，达到每位教师对各年级教材都要熟知、</tspan><tspan x="2095" dy="13.2">熟用。</tspan></text></g>
<g id="b6-4ct"><rect class="bx k6" x="2333" y="4324.2" width="222" height="115.6" rx="3"/><text class="t" y="4340"><tspan x="2338">作为英语教研员时常反思自己的工作及方法，</tspan><tspan x="2338" dy="13.2">深知自己经验不足，需要改进的还有很多，承</tspan><tspan x="2338" dy="13.2">蒙大家信任，也明白经验需要慢慢积累，如多</tspan><tspan x="2338" dy="13.2">时候对有些工作预见性不够。今后的工作中我</tspan><tspan x="2338" dy="13.2">会多思考，多琢磨，多请教。我会再接再励，</tspan><tspan x="2338" dy="13.2">克服缺点，高标准严格要求自己，不断提高教</tspan><tspan x="2338" dy="13.2">育理论水平和教学指导水平，带领全镇英语教</tspan><tspan x="2338" dy="13.2">师共同进步，共同提高！</tspan></text></g>
</g>
</svg>
